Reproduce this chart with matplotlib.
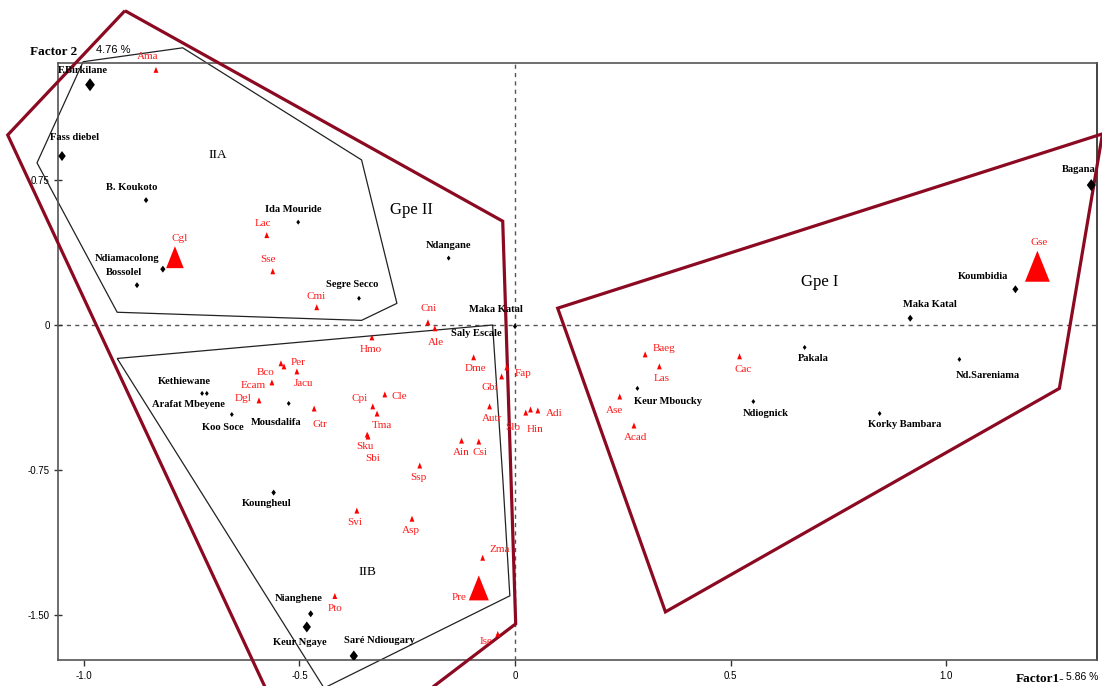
import matplotlib.pyplot as plt
from matplotlib.patches import Polygon

# sites (black diamonds)
site_names = ["F.Birkilane", "Fass diebel", "B. Koukoto", "Ida Mouride", "Ndiamacolong",
              "Bossolel", "Segre Secco", "Ndangane", "Maka Katal", "Saly Escale",
              "Kethiewane", "Arafat Mbeyene", "Koo Soce", "Mousdalifa", "Koungheul",
              "Nianghene", "Keur Ngaye", "Saré Ndiougary", "Keur Mboucky", "Ndiognick",
              "Pakala", "Maka Katal", "Koumbidia", "Bagana", "Nd.Sareniama", "Korky Bambara"]
site_x = [-0.986, -1.051, -0.856, -0.503, -0.817, -0.877, -0.362, -0.154, 0.0, 0.0,
          -0.726, -0.715, -0.657, -0.525, -0.560, -0.474, -0.483, -0.374, 0.284, 0.553,
          0.672, 0.917, 1.161, 1.337, 1.031, 0.846]
site_y = [1.243, 0.874, 0.646, 0.532, 0.289, 0.206, 0.138, 0.346, -0.007, -0.007,
          -0.354, -0.354, -0.463, -0.406, -0.867, -1.494, -1.562, -1.712, -0.328, -0.396,
          -0.116, 0.035, 0.185, 0.724, -0.178, -0.458]

# species (red triangles)
sp_names = ["Ama", "Lac", "Cgl", "Sse", "Cmi", "Hmo", "Per", "Bco", "Jacu", "Ecam",
            "Dgl", "Gtr", "Cpi", "Tma", "Sku", "Sbi", "Cle", "Cni", "Ale", "Dme",
            "Fap", "Gbi", "Autr", "Slo", "Hin", "Adi", "Ain", "Csi", "Ssp", "Svi",
            "Asp", "Zma", "Pre", "Pto", "Ise", "Baeg", "Las", "Ase", "Acad", "Cac", "Gse"]
sp_x = [-0.833, -0.576, -0.789, -0.562, -0.460, -0.332, -0.543, -0.536, -0.506, -0.564,
        -0.594, -0.466, -0.330, -0.320, -0.343, -0.341, -0.302, -0.202, -0.186, -0.096,
        -0.019, -0.031, -0.059, 0.025, 0.036, 0.053, -0.124, -0.084, -0.221, -0.367,
        -0.239, -0.075, -0.084, -0.418, -0.040, 0.302, 0.335, 0.243, 0.276, 0.521, 1.212]
sp_y = [1.320, 0.465, 0.351, 0.278, 0.092, -0.064, -0.198, -0.214, -0.240, -0.297,
        -0.390, -0.432, -0.421, -0.458, -0.567, -0.577, -0.359, 0.014, -0.017, -0.167,
        -0.219, -0.266, -0.421, -0.453, -0.437, -0.442, -0.598, -0.603, -0.727, -0.960,
        -1.002, -1.204, -1.360, -1.402, -1.598, -0.152, -0.214, -0.370, -0.520, -0.162, 0.304]

# group outlines
gpe2_x = [-0.905, -0.0285, 0.0016, -0.478, -1.177]
gpe2_y = [1.626, 0.537, -1.546, -2.361, 0.983]
gpe1_x = [0.099, 1.363, 1.263, 0.349]
gpe1_y = [0.087, 0.989, -0.328, -1.484]
iia_x = [-1.002, -0.771, -0.356, -0.274, -0.356, -0.923, -1.109]
iia_y = [1.362, 1.434, 0.854, 0.112, 0.024, 0.066, 0.839]
iib_x = [-0.923, -0.052, -0.028, -0.012, -0.443]
iib_y = [-0.173, 0.0, -0.805, -1.401, -1.878]

xticks = [-1.0, -0.5, 0.0, 0.5, 1.0]
xtick_labels = ["-1.0", "-0.5", "0", "0.5", "1.0"]
yticks = [0.75, 0.0, -0.75, -1.5]
ytick_labels = ["0.75", "0", "-0.75", "-1.50"]

# marker heights in pixels
site_h = [13, 10, 6, 5, 7, 6, 5, 5, 5, 5, 5, 5, 5, 5, 6, 7, 11, 11, 5, 5, 5, 7, 8, 12, 5, 5]
sp_h = [6] * 41
sp_h[2] = 22   # Cgl
sp_h[32] = 25  # Pre
sp_h[40] = 31  # Gse

# label offsets (pixels, relative to marker)
site_off = [(-7, 14), (13, 19), (-14, 13), (-5, 13), (-36, 11), (-13, 13), (-7, 14), (0, 13),
            (-19, 17), (-39, -7), (-18, 12), (-18, -11), (-9, -13), (-13, -19), (-7, -11),
            (-12, 15), (-7, -16), (26, 15), (31, -13), (12, -12), (9, -11), (20, 14),
            (-32, 13), (-13, 16), (28, -16), (25, -11)]
sp_off = [(-8, 13), (-4, 12), (5, 19), (-5, 12), (-1, 11), (-1, -12), (17, 1), (-18, -6),
          (7, -12), (-19, -3), (-16, 2), (6, -16), (-13, 8), (5, -12), (-2, -12), (5, -22),
          (14, -2), (1, 14), (1, -14), (2, -11), (16, -6), (-12, -11), (2, -12), (-13, -15),
          (5, -20), (16, -3), (0, -12), (1, -11), (-1, -12), (-2, -12), (-1, -12), (17, 8),
          (-20, -10), (0, -12), (-12, -8), (19, 6), (2, -12), (-5, -14), (2, -12), (4, -13),
          (2, 24)]

W, H = 1102, 686
MAROON = "#8b0a22"
SANS = ["Liberation Sans", "DejaVu Sans"]
SERIF = ["Liberation Serif", "DejaVu Serif"]

diamond = [(0, 1), (0.75, 0), (0, -1), (-0.75, 0), (0, 1)]
triangle = [(0, 1), (0.8, -1), (-0.8, -1), (0, 1)]

fig = plt.figure(figsize=(W / 100, H / 100), dpi=100)
ax = fig.add_axes([58 / W, 1 - 660 / H, (1097 - 58) / W, (660 - 62.5) / H])
ax.set_xlim(-1.0603, 1.3503)
ax.set_ylim(-1.733, 1.358)

for s in ax.spines.values():
    s.set_color("#555555")
    s.set_linewidth(1.2)
ax.spines["right"].set_color("#222222")

ax.axhline(0, color="#555555", lw=1, ls=(0, (3, 3)), zorder=1)
ax.axvline(0, color="#555555", lw=1, ls=(0, (3, 3)), zorder=1)

ax.set_xticks(xticks)
ax.set_xticklabels(xtick_labels, family=SANS, fontsize=7)
ax.set_yticks(yticks)
ax.set_yticklabels(ytick_labels, family=SANS, fontsize=7)
ax.tick_params(axis="x", direction="out", length=4, width=1, color="#333333", pad=4)
ax.tick_params(axis="y", direction="inout", length=6, width=1, color="#333333", pad=3)

ax.add_patch(Polygon(list(zip(gpe2_x, gpe2_y)), closed=True, fill=False,
                     ec=MAROON, lw=2.3, clip_on=False, zorder=3))
ax.add_patch(Polygon(list(zip(gpe1_x, gpe1_y)), closed=True, fill=False,
                     ec=MAROON, lw=2.3, clip_on=False, zorder=3))
ax.add_patch(Polygon(list(zip(iia_x, iia_y)), closed=True, fill=False,
                     ec="#222222", lw=0.9, clip_on=False, zorder=2))
ax.add_patch(Polygon(list(zip(iib_x, iib_y)), closed=True, fill=False,
                     ec="#222222", lw=0.9, clip_on=False, zorder=2))

ax.scatter(site_x, site_y, s=[(h * 0.72) ** 2 for h in site_h], marker=diamond,
           c="black", linewidths=0, zorder=5)
ax.scatter(sp_x, sp_y, s=[(h * 0.72) ** 2 for h in sp_h], marker=triangle,
           c="#ff0000", linewidths=0, zorder=5)

for name, x, y, off in zip(site_names, site_x, site_y, site_off):
    ax.annotate(name, (x, y), xytext=off, textcoords="offset pixels", ha="center",
                va="center", family=SERIF, fontweight="bold", fontsize=7.6, color="black",
                zorder=6)
for name, x, y, off in zip(sp_names, sp_x, sp_y, sp_off):
    ax.annotate(name, (x, y), xytext=off, textcoords="offset pixels", ha="center",
                va="center", family=SERIF, fontsize=8, color="#ff1a1a", zorder=6)

# group names
def px(x, y):
    return ((x - 515.3) / 431.3, (324.7 - y) / 192.9)

ax.text(*px(218, 155), "IIA", ha="center", va="center", family=SERIF, fontsize=9.5)
ax.text(*px(368, 571), "IIB", ha="center", va="center", family=SERIF, fontsize=9.5)
ax.text(*px(412, 210), "Gpe II", ha="center", va="center", family=SERIF, fontsize=12)
ax.text(*px(820, 282), "Gpe I", ha="center", va="center", family=SERIF, fontsize=12)

fig.text(30 / W, 1 - 52 / H, "Factor 2", ha="left", va="center", family=SERIF,
         fontweight="bold", fontsize=9.5)
fig.text(96 / W, 1 - 50 / H, "4.76 %", ha="left", va="center", family=SANS, fontsize=8)
fig.text(1064 / W, 1 - 679 / H, "Factor1-", ha="right", va="center", family=SERIF,
         fontweight="bold", fontsize=9.5)
fig.text(1066 / W, 1 - 677 / H, "5.86 %", ha="left", va="center", family=SANS, fontsize=7.5)

fig.savefig("out.png", dpi=100)
